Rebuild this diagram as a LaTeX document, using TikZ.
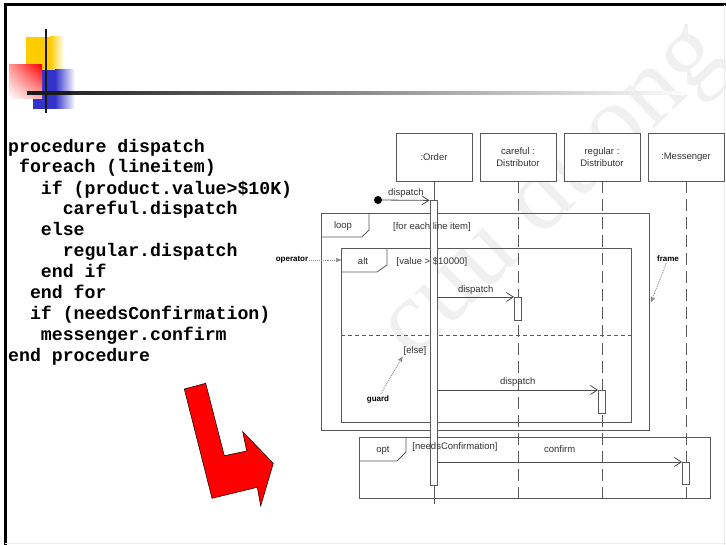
\documentclass[tikz,border=0pt]{standalone}
\usepackage{fontspec}
\setmainfont{Liberation Serif}
\setsansfont{Liberation Sans}
\setmonofont{Liberation Mono}
\usepackage{xcolor}
\usetikzlibrary{arrows,arrows.meta,positioning,calc,shadings}
\definecolor{logoyellow}{HTML}{FFCC00}
\definecolor{logoblue}{HTML}{3333CC}

\begin{document}
\begin{tikzpicture}[x=1pt,y=-1pt,>={Straight Barb[length=7pt,width=9pt]}]
	\tikzstyle{obj}=[draw=black!65,line width=0.8pt,fill=white,minimum width=76pt,minimum height=48pt,align=center,text=black!80,font=\sffamily\fontsize{9.5}{12}\selectfont]
	\tikzstyle{life}=[draw=black!65,line width=0.8pt,dash pattern=on 12pt off 6pt]
	\tikzstyle{act}=[draw=black!65,line width=0.8pt,fill=white,minimum width=7pt,inner sep=0pt,anchor=north]
	\tikzstyle{fragment}=[draw=black!65,line width=0.8pt,inner sep=0pt,anchor=north west]
	\tikzstyle{tag}=[draw=black!65,line width=0.8pt]
	\tikzstyle{lbl}=[text=black!80,font=\sffamily\fontsize{9.5}{11}\selectfont,inner sep=1pt]
	\tikzstyle{msg}=[->,draw=black!70,line width=0.8pt]
	\tikzstyle{note}=[text=black,font=\sffamily\bfseries\fontsize{8}{9}\selectfont,inner sep=1pt]
	\tikzstyle{pointer}=[-stealth',draw=black!45,line width=0.9pt,densely dotted]
	\tikzstyle{code}=[anchor=base west,align=left,inner sep=0pt,font=\ttfamily\bfseries\fontsize{18.2}{21}\selectfont]

	\useasboundingbox[fill=white] (0,0) rectangle (726,545);

	\node[rotate=44,text=black!6,font=\fontsize{104}{104}\selectfont] (mark) at (553,192) {cuu duong};

	\draw[line width=3pt] (5,546) -- (5,5) -- (727,5);
	\draw[black!7] (724.5,5) -- (724.5,545);
	\draw[black!7] (5,543.5) -- (726,543.5);

	\fill[logoyellow] (26,37) rectangle (50.5,71);
	\shade[left color=logoyellow,right color=white] (50,37) rectangle (64,71);
	\fill[logoblue] (33,70) rectangle (55.5,109);
	\shade[left color=logoblue,right color=white] (55,70) rectangle (75,109);
	\shade[upper left=red!40,upper right=red,lower left=white,lower right=red!30] (9,65) rectangle (42,99);
	\draw[line width=2pt,black!90] (46,29) -- (46,113);
	\fill[black!90] (27,91.5) rectangle (72,95);
	\shade[left color=black!85,right color=white] (71.5,91.5) rectangle (690,95);

	\node[code] (proc) at (8,362) {procedure dispatch\\
	\ foreach (lineitem)\\
	\ \ \ if (product.value>\$10K)\\
	\ \ \ \ \ careful.dispatch\\
	\ \ \ else\\
	\ \ \ \ \ regular.dispatch\\
	\ \ \ end if\\
	\ \ end for\\
	\ \ if (needsConfirmation)\\
	\ \ \ messenger.confirm\\
	end procedure};

	\draw[fill=red,draw=black,line width=0.5pt] (184.3,389) -- (205.7,383.3) -- (224.3,455.7) -- (246.7,451) -- (242.7,431.7) -- (273.3,463.3) -- (260.7,506) -- (257.3,487.3) -- (212,498.3) -- cycle;

	\node[fragment,minimum width=328pt,minimum height=217pt] (loop) at (321,213) {};
	\draw[tag] ($(loop.north west)+(0,24)$) -- ++(41,0) -- ++(7,-7) -- ($(loop.north west)+(48,0)$);
	\node[lbl] at ($(loop.north west)+(22,13)$) {loop};

	\node[fragment,minimum width=290pt,minimum height=174pt] (alt) at (341,248) {};
	\draw[tag] ($(alt.north west)+(0,24)$) -- ++(36,0) -- ++(10,-7) -- ($(alt.north west)+(46,0)$);
	\node[lbl] at ($(alt.north west)+(22,13)$) {alt};
	\coordinate (split) at (0,335);
	\draw[tag,dash pattern=on 4pt off 3pt] (alt.west |- split) -- (alt.east |- split);

	\node[fragment,minimum width=351pt,minimum height=61pt] (opt) at (359,437) {};
	\draw[tag] ($(opt.north west)+(0,24)$) -- ++(38,0) -- ++(9,-9) -- ($(opt.north west)+(47,0)$);
	\node[lbl] at ($(opt.north west)+(24,13)$) {opt};

	\node[obj]    (order)                                      at (434,157) {:Order};
	\node[obj]    (careful)[right of=order,node distance=84pt]              {careful :\\Distributor};
	\node[obj]    (regular)[right of=careful,node distance=84pt]            {regular :\\Distributor};
	\node[obj]    (messenger)[right of=regular,node distance=84pt]          {:Messenger};

	\coordinate (bottom) at (0,504);
	\draw[draw=black!65,line width=0.8pt] (order.south) -- (order.south |- bottom);
	\draw[life] (careful.south) -- (careful.south |- bottom);
	\draw[life] (regular.south) -- (regular.south |- bottom);
	\draw[life] (messenger.south) -- (messenger.south |- bottom);

	\node[act,minimum height=285pt] (orderAct)     at ($(order.south)+(-0.5,19)$) {};
	\node[act,minimum height=23pt]  (carefulAct)   at (careful.south |- 0,297)    {};
	\node[act,minimum height=23pt]  (regularAct)   at (regular.south |- 0,390)    {};
	\node[act,minimum height=22pt]  (messengerAct) at (messenger.south |- 0,462)  {};

	\node[lbl] (each)  at (432,227) {[for each line item]};
	\node[lbl] (value) at (432,262) {[value > \$10000]};
	\node[lbl] (else)  at (415,351) {[else]};
	\node[lbl] (needs) at (455,447) {[needsConfirmation]};

	\node[circle,fill=black,inner sep=0pt,minimum size=8pt] (start) at (378,200) {};
	\path
	(start) edge[msg] node[lbl,above=1pt] {dispatch} (orderAct.north west)
	(orderAct.east |- carefulAct.north) edge[msg] node[lbl,above=1pt] {dispatch} (carefulAct.north west)
	(orderAct.east |- regularAct.north) edge[msg] node[lbl,above=2pt] {dispatch} (regularAct.north west)
	(orderAct.east |- messengerAct.north) edge[msg] node[lbl,above=8pt] {confirm} (messengerAct.north west);

	\node[note] (operator) at (292,260) {operator};
	\node[note] (guard) at (378,399) {guard};
	\node[note] (framelbl) at (668,259) {frame};
	\coordinate (hit) at (651,302);
	\path
	(operator) edge[pointer] (operator -| alt.west)
	(guard) edge[pointer] (else.south west)
	(framelbl) edge[pointer] (hit);
\end{tikzpicture}
\end{document}
